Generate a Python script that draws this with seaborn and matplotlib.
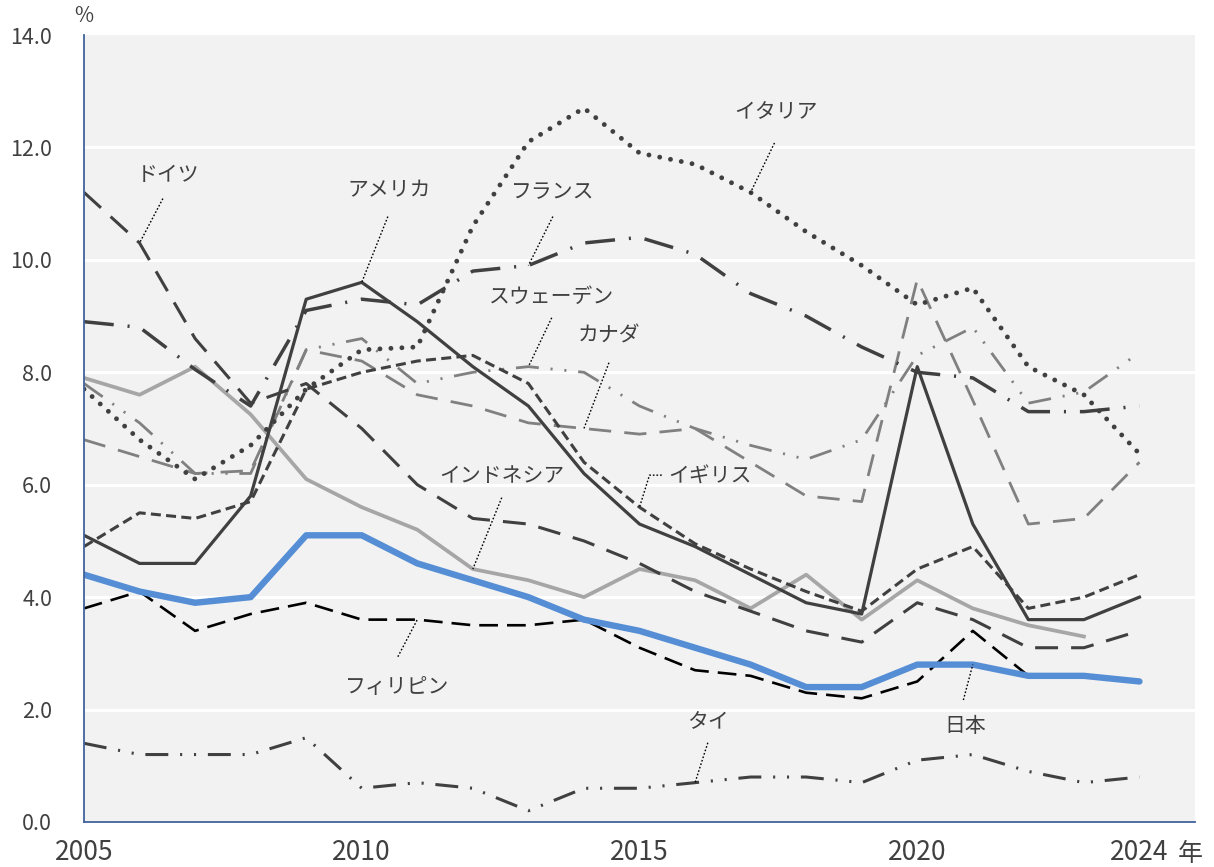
import numpy as np
import pandas as pd
import matplotlib
matplotlib.use("Agg")
import matplotlib.pyplot as plt
import seaborn as sns

# ---------------- data ----------------
years = list(range(2005, 2025))
japan = [4.4, 4.1, 3.9, 4.0, 5.1, 5.1, 4.6, 4.3, 4.0, 3.6, 3.4, 3.1, 2.8, 2.4, 2.4, 2.8, 2.8, 2.6, 2.6, 2.5]
usa = [5.1, 4.6, 4.6, 5.8, 9.3, 9.6, 8.9, 8.1, 7.4, 6.2, 5.3, 4.9, 4.4, 3.9, 3.7, 8.1, 5.3, 3.6, 3.6, 4.0]
uk = [4.9, 5.5, 5.4, 5.7, 7.7, 8.0, 8.2, 8.3, 7.8, 6.4, 5.6, 4.95, 4.5, 4.1, 3.75, 4.5, 4.9, 3.8, 4.0, 4.4]
germany = [11.2, 10.3, 8.6, 7.45, 7.8, 7.0, 6.0, 5.4, 5.3, 5.0, 4.6, 4.1, 3.75, 3.4, 3.2, 3.9, 3.6, 3.1, 3.1, 3.4]
france = [8.9, 8.8, 8.05, 7.4, 9.1, 9.3, 9.2, 9.8, 9.9, 10.3, 10.4, 10.1, 9.4, 9.0, 8.45, 8.0, 7.9, 7.3, 7.3, 7.4]
italy = [7.7, 6.8, 6.1, 6.7, 7.7, 8.4, 8.45, 10.6, 12.1, 12.7, 11.9, 11.7, 11.2, 10.5, 9.9, 9.2, 9.5, 8.1, 7.6, 6.55]
sweden = [7.8, 7.1, 6.2, 6.2, 8.4, 8.6, 7.8, 8.0, 8.1, 8.0, 7.4, 7.0, 6.7, 6.45, 6.8, 8.3, 8.8, 7.45, 7.65, 8.35]
canada = [6.8, 6.5, 6.2, 6.25, 8.4, 8.2, 7.6, 7.4, 7.1, 7.0, 6.9, 7.0, 6.4, 5.8, 5.7, 9.65, 7.5, 5.3, 5.4, 6.4]
indonesia = [7.9, 7.6, 8.1, 7.25, 6.1, 5.6, 5.2, 4.5, 4.3, 4.0, 4.5, 4.3, 3.8, 4.4, 3.6, 4.3, 3.8, 3.5, 3.3, None]
philippines = [3.8, 4.1, 3.4, 3.7, 3.9, 3.6, 3.6, 3.5, 3.5, 3.6, 3.1, 2.7, 2.6, 2.3, 2.2, 2.5, 3.4, 2.6, None, None]
thailand = [1.4, 1.2, 1.2, 1.2, 1.5, 0.6, 0.7, 0.6, 0.2, 0.6, 0.6, 0.7, 0.8, 0.8, 0.7, 1.1, 1.2, 0.9, 0.7, 0.8]

y_ticks = [0.0, 2.0, 4.0, 6.0, 8.0, 10.0, 12.0, 14.0]
x_ticks = list(range(2005, 2026))
x_labels = {2005: "2005", 2010: "2010", 2015: "2015", 2020: "2020", 2024: "2024"}

# ---------------- style ----------------
sns.set_style("white")
plt.rcParams["font.family"] = ["Noto Sans CJK JP", "DejaVu Sans"]
plt.rcParams["lines.scale_dashes"] = False

DARK = "#404040"
GRAY = "#808080"
LIGHT = "#a6a6a6"
BLUE = "#558ed5"
AXC = "#41629b"

fig = plt.figure(figsize=(12.14, 8.67), dpi=100)
ax = fig.add_axes([84 / 1214, 45 / 867, 1111 / 1214, 787 / 867])
ax.set_facecolor("#f2f2f2")

series = [
    ("タイ", thailand, dict(color=DARK, lw=2.2, ls=(0, (16.5, 8.5, 1.5, 8.5, 1.5, 8.5)))),
    ("フィリピン", philippines, dict(color="#000000", lw=1.9, ls=(0, (13.5, 6.5)))),
    ("カナダ", canada, dict(color=GRAY, lw=2.0, ls=(0, (16.0, 9.5)))),
    ("スウェーデン", sweden, dict(color=GRAY, lw=2.0, ls=(0, (16.5, 8.5, 1.5, 8.5, 1.5, 8.5)))),
    ("インドネシア", indonesia, dict(color=LIGHT, lw=2.7, ls="-")),
    ("ドイツ", germany, dict(color=DARK, lw=2.2, ls=(0, (16.5, 9.4)))),
    ("フランス", france, dict(color=DARK, lw=2.5, ls=(0, (21.5, 10.0, 1.5, 10.0)))),
    ("イギリス", uk, dict(color=DARK, lw=2.2, ls=(0, (7.2, 3.8)))),
    ("アメリカ", usa, dict(color=DARK, lw=2.3, ls="-")),
    ("イタリア", italy, dict(color=DARK, lw=3.5, ls=(0, (0.01, 7.9)))),
    ("日本", japan, dict(color=BLUE, lw=4.6, ls="-")),
]

for name, vals, st in series:
    df = pd.DataFrame({"year": years, "value": [np.nan if v is None else v for v in vals]}).dropna()
    sns.lineplot(data=df, x="year", y="value", ax=ax, color=st["color"], linewidth=st["lw"],
                 linestyle=st["ls"], dash_capstyle="round" if name == "イタリア" else "butt",
                 solid_capstyle="round" if name == "日本" else "projecting", errorbar=None,
                 legend=False, sort=False)

# ---------------- axes ----------------
ax.set_xlim(2005, 2025)
ax.set_ylim(0, 14)
ax.set_yticks(y_ticks)
ax.set_yticklabels([f"{v:.1f}" for v in y_ticks])
ax.set_xticks(x_ticks)
ax.set_xticklabels([x_labels.get(x, "") for x in x_ticks])
ax.set_xlabel("")
ax.set_ylabel("")
for yv in y_ticks[1:-1]:
    ax.axhline(yv, color="white", lw=2.2, zorder=0.5)
for s in ["top", "right"]:
    ax.spines[s].set_visible(False)
for s in ["left", "bottom"]:
    ax.spines[s].set_color(AXC)
    ax.spines[s].set_linewidth(1.3)
ax.tick_params(axis="y", direction="out", length=7, width=1.2, color=AXC, pad=16,
               labelsize=15.5, labelcolor=DARK)
ax.tick_params(axis="x", direction="out", length=7, width=1.2, color=AXC, pad=5,
               labelsize=19, labelcolor=DARK)

fig.text(84 / 1214, 1 - 16 / 867, "%", ha="center", va="center", fontsize=15, color=DARK)
fig.text(1190 / 1214, 1 - 854 / 867, "年", ha="center", va="center", fontsize=18, color=DARK)

# ---------------- labels with leader lines ----------------
idx = {y: i for i, y in enumerate(years)}
labels = [
    ("ドイツ", (2006.51, 11.51), [(2006.42, 11.09)], 2006, germany),
    ("アメリカ", (2010.49, 11.23), [(2010.47, 10.77)], 2010, usa),
    ("フランス", (2013.44, 11.21), [(2013.44, 10.77)], 2013, france),
    ("イタリア", (2017.45, 12.63), [(2017.43, 12.08)], 2017, italy),
    ("スウェーデン", (2013.42, 9.34), [(2013.42, 8.97)], 2013, sweden),
    ("カナダ", (2014.45, 8.65), [(2014.45, 8.17)], 2014, canada),
    ("インドネシア", (2012.52, 6.16), [(2012.52, 5.77)], 2012, indonesia),
    ("イギリス", (2016.26, 6.14), [(2015.40, 6.17), (2015.18, 6.17)], 2015, uk),
    ("フィリピン", (2010.63, 2.40), [(2010.65, 2.94)], 2011, philippines),
    ("日本", (2020.87, 1.71), [(2020.83, 2.17)], 2021, japan),
    ("タイ", (2016.23, 1.78), [(2016.23, 1.41)], 2016, thailand),
]
for text, (tx, ty), path, yr, vals in labels:
    ax.text(tx, ty, text, ha="center", va="center", fontsize=15, color=DARK, zorder=6)
    xs = [p[0] for p in path] + [yr]
    ys = [p[1] for p in path] + [vals[idx[yr]]]
    ax.plot(xs, ys, color="black", lw=1.0, ls=(0, (1.2, 1.4)), zorder=6)

fig.savefig("out.png", dpi=100)
